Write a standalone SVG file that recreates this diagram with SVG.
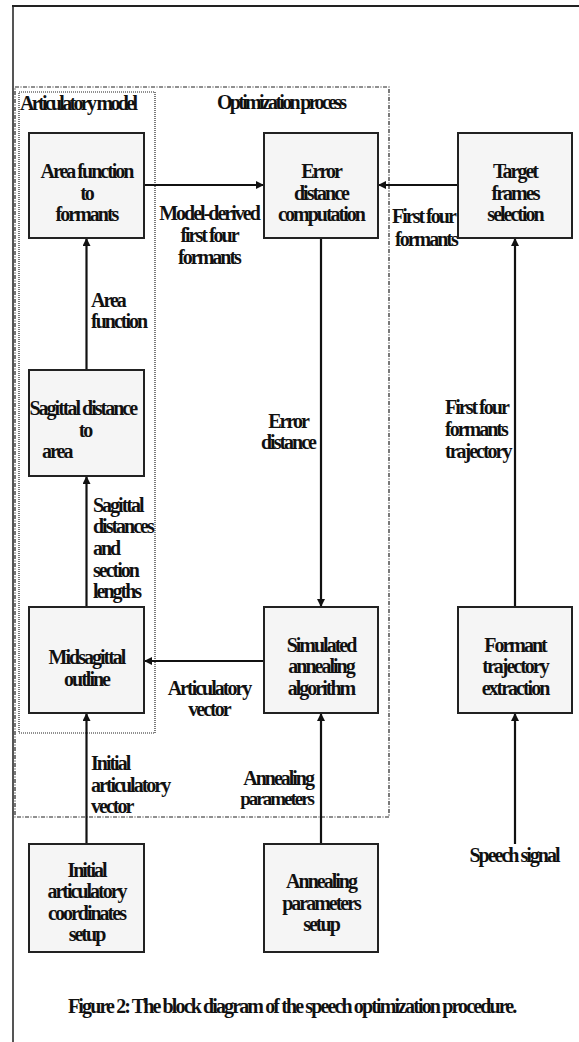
<svg xmlns="http://www.w3.org/2000/svg" width="579" height="1042" viewBox="0 0 579 1042">
<style>
text{font-family:"Liberation Serif","Times New Roman",serif;font-weight:bold;font-size:20px;letter-spacing:-2px;fill:#111}
.c{text-anchor:middle}
.hd{letter-spacing:-2.7px}
.box{fill:#f5f5f5;stroke:#222;stroke-width:2}
.con{stroke:#111;stroke-width:2.2;fill:none}
</style>
<defs>
<marker id="ah" viewBox="0 0 10 10" refX="10" refY="5" markerWidth="8" markerHeight="8" markerUnits="userSpaceOnUse" orient="auto">
<path d="M0,0 L10,5 L0,10 z" fill="#111"/>
</marker>
</defs>
<rect width="579" height="1042" fill="#fff"/>
<g id="frame">
<line x1="13" y1="6" x2="13" y2="1042" stroke="#555" stroke-width="2"/>
<line x1="12" y1="6" x2="579" y2="6" stroke="#222" stroke-width="2"/>
</g>
<g id="optimization-process">
<rect x="15" y="87" width="374" height="730" fill="none" stroke="#222" stroke-width="1.2" stroke-dasharray="4,1.5,1,1.5"/>
<text class="hd" x="217" y="109">Optimization process</text>
</g>
<g id="articulatory-model">
<rect x="19" y="92" width="136" height="641" fill="none" stroke="#222" stroke-width="1.2" stroke-dasharray="1,1"/>
<text class="hd" x="20" y="110">Articulatory model</text>
</g>
<g id="connectors">
<line class="con" x1="144" y1="185" x2="264" y2="185" marker-end="url(#ah)"/>
<line class="con" x1="458" y1="185" x2="378" y2="185" marker-end="url(#ah)"/>
<line class="con" x1="321" y1="238" x2="321" y2="607" marker-end="url(#ah)"/>
<line class="con" x1="515" y1="607" x2="515" y2="238" marker-end="url(#ah)"/>
<line class="con" x1="86.5" y1="370" x2="86.5" y2="238" marker-end="url(#ah)"/>
<line class="con" x1="86.5" y1="607" x2="86.5" y2="476" marker-end="url(#ah)"/>
<line class="con" x1="264" y1="661" x2="144" y2="661" marker-end="url(#ah)"/>
<line class="con" x1="86.5" y1="844" x2="86.5" y2="713" marker-end="url(#ah)"/>
<line class="con" x1="321" y1="844" x2="321" y2="713" marker-end="url(#ah)"/>
<line class="con" x1="515" y1="844" x2="515" y2="713" marker-end="url(#ah)"/>
<text class="c" x="209" y="220">Model-derived</text>
<text class="c" x="209" y="242">first four</text>
<text class="c" x="209" y="264">formants</text>
<text x="392" y="223">First four</text>
<text x="395" y="246">formants</text>
<text x="91" y="307">Area</text>
<text x="91" y="328">function</text>
<text class="c" x="288" y="428">Error</text>
<text class="c" x="288" y="449">distance</text>
<text x="445" y="414">First four</text>
<text x="445" y="436">formants</text>
<text x="445" y="458">trajectory</text>
<text x="93" y="512">Sagittal</text>
<text x="93" y="533">distances</text>
<text x="93" y="555">and</text>
<text x="93" y="577">section</text>
<text x="93" y="598">lengths</text>
<text class="c" x="209" y="695">Articulatory</text>
<text class="c" x="209" y="716">vector</text>
<text x="91" y="770">Initial</text>
<text x="91" y="792">articulatory</text>
<text x="91" y="813">vector</text>
<text x="313" y="785" text-anchor="end">Annealing</text>
<text x="313" y="805" text-anchor="end" style="font-size:19px">parameters</text>
<text class="c" x="514" y="862">Speech signal</text>
</g>
<g id="area-to-formants">
<rect class="box" x="29" y="133" width="115" height="105"/>
<text class="c" x="86.5" y="178">Area function</text>
<text class="c" x="86.5" y="200">to</text>
<text class="c" x="86.5" y="221">formants</text>
</g>
<g id="error-distance">
<rect class="box" x="264" y="133" width="114" height="105"/>
<text class="c" x="321" y="178">Error</text>
<text class="c" x="321" y="200">distance</text>
<text class="c" x="321" y="221">computation</text>
</g>
<g id="target-frames">
<rect class="box" x="458" y="133" width="114" height="105"/>
<text class="c" x="515" y="178">Target</text>
<text class="c" x="515" y="200">frames</text>
<text class="c" x="515" y="221">selection</text>
</g>
<g id="sagittal-to-area">
<rect class="box" x="29" y="370" width="115" height="106"/>
<text x="29.5" y="415">Sagittal distance</text>
<text class="c" x="85" y="437">to</text>
<text x="42" y="458">area</text>
</g>
<g id="midsagittal">
<rect class="box" x="29" y="607" width="115" height="106"/>
<text class="c" x="86.5" y="664">Midsagittal</text>
<text class="c" x="86.5" y="686">outline</text>
</g>
<g id="simulated-annealing">
<rect class="box" x="264" y="607" width="114" height="106"/>
<text class="c" x="321" y="652">Simulated</text>
<text class="c" x="321" y="673">annealing</text>
<text class="c" x="321" y="695">algorithm</text>
</g>
<g id="formant-extraction">
<rect class="box" x="458" y="607" width="114" height="106"/>
<text class="c" x="515" y="652">Formant</text>
<text class="c" x="515" y="673">trajectory</text>
<text class="c" x="515" y="695">extraction</text>
</g>
<g id="initial-setup">
<rect class="box" x="29" y="844" width="115" height="108"/>
<text class="c" x="86.5" y="877">Initial</text>
<text class="c" x="86.5" y="898">articulatory</text>
<text class="c" x="86.5" y="920">coordinates</text>
<text class="c" x="86.5" y="941">setup</text>
</g>
<g id="annealing-setup">
<rect class="box" x="264" y="844" width="114" height="108"/>
<text class="c" x="321" y="888">Annealing</text>
<text class="c" x="321" y="910">parameters</text>
<text class="c" x="321" y="931">setup</text>
</g>
<g id="caption">
<text x="68" y="1013" style="letter-spacing:-1.88px">Figure 2: The block diagram of the speech optimization procedure.</text>
</g>
</svg>
